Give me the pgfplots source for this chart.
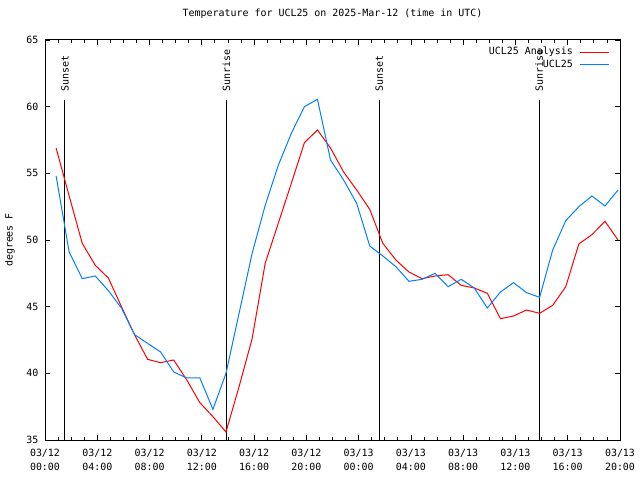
\documentclass[border=0pt]{standalone}
\usepackage{pgfplots}
\pgfplotsset{compat=1.18}
\usepackage{fontspec}
\setmainfont{DejaVu Sans Mono}
\definecolor{obsblue}{RGB}{0,128,255}
\begin{document}
\begin{tikzpicture}[font=\fontsize{10}{12}\selectfont]
\useasboundingbox (0,0) rectangle (640bp,480bp);
\begin{axis}[
  at={(45bp,40bp)}, anchor=south west,
  width=575bp, height=400bp, scale only axis,
  xmin=0, xmax=44, ymin=35, ymax=65,
  xtick={0,4,...,44}, minor x tick num=3,
  xticklabels={{03/12\\00:00},{03/12\\04:00},{03/12\\08:00},{03/12\\12:00},{03/12\\16:00},{03/12\\20:00},{03/13\\00:00},{03/13\\04:00},{03/13\\08:00},{03/13\\12:00},{03/13\\16:00},{03/13\\20:00}},
  ytick={35,40,...,65},
  xticklabel style={align=center, font=\fontsize{10}{13.5}\selectfont, yshift=-6bp},
  yticklabel style={xshift=-3bp},
  /pgf/number format/assume math mode=true,
  tick align=inside,
  major tick length=5bp, minor tick length=3bp,
  every tick/.style={black, line width=0.8bp},
  axis line style={line width=1bp},
  title={Temperature for UCL25 on 2025-Mar-12 (time in UTC)},
  title style={at={(0.5,1)}, anchor=center, yshift=20bp},
  ylabel={degrees F},
  ylabel style={at={(axis description cs:-0.061,0.5)}, anchor=center},
  legend plot pos=right,
  legend cell align=right,
  legend image code/.code={\draw[#1] (0bp,0bp) -- (29bp,0bp);},
  legend style={at={(1,1)}, anchor=north east, xshift=-10bp, yshift=-7bp,
    draw=none, fill=none, inner sep=0pt, row sep=2.7bp, column sep=7bp,
    nodes={inner sep=0pt, text height=7.5bp, text depth=2.5bp}},
]
% sunset / sunrise lines
\addplot[black, line width=1bp, forget plot] coordinates {(1.53,35) (1.53,60.5)};
\addplot[black, line width=1bp, forget plot] coordinates {(13.88,35) (13.88,60.5)};
\addplot[black, line width=1bp, forget plot] coordinates {(25.57,35) (25.57,60.5)};
\addplot[black, line width=1bp, forget plot] coordinates {(37.82,35) (37.82,60.5)};
\node[rotate=90, anchor=west, inner sep=0pt] at (axis cs:1.53,61.1) {Sunset};
\node[rotate=90, anchor=west, inner sep=0pt] at (axis cs:13.88,61.1) {Sunrise};
\node[rotate=90, anchor=west, inner sep=0pt] at (axis cs:25.57,61.1) {Sunset};
\node[rotate=90, anchor=west, inner sep=0pt] at (axis cs:37.82,61.1) {Sunrise};
% UCL25 Analysis
\addplot[red, line width=1bp] coordinates {
(0.85,56.9) (1.85,53.3) (2.85,49.75) (3.85,48.1) (4.85,47.15) (5.85,45.0)
(6.85,42.9) (7.85,41.05) (8.85,40.8) (9.85,41.0) (10.85,39.5) (11.85,37.8)
(12.85,36.75) (13.85,35.6) (14.85,39.0) (15.85,42.6) (16.85,48.25) (17.85,51.25)
(18.85,54.25) (19.85,57.3) (20.85,58.25) (21.85,56.9) (22.85,55.1) (23.85,53.75)
(24.85,52.3) (25.85,49.75) (26.85,48.5) (27.85,47.6) (28.85,47.1) (29.85,47.3)
(30.85,47.4) (31.85,46.6) (32.85,46.4) (33.85,46.0) (34.85,44.1) (35.85,44.3)
(36.85,44.75) (37.85,44.5) (38.85,45.1) (39.85,46.5) (40.85,49.7) (41.85,50.4)
(42.85,51.4) (43.85,50.0)
};
\addlegendentry{UCL25 Analysis}
% UCL25 observed
\addplot[obsblue, line width=1bp] coordinates {
(0.85,54.8) (1.85,49.1) (2.85,47.1) (3.85,47.3) (4.85,46.2) (5.85,44.9)
(6.85,42.9) (7.85,42.25) (8.85,41.6) (9.85,40.1) (10.85,39.65) (11.85,39.65)
(12.85,37.3) (13.85,40.0) (14.85,44.5) (15.85,49.0) (16.85,52.6) (17.85,55.6)
(18.85,58.0) (19.85,60.0) (20.85,60.55) (21.85,56.0) (22.85,54.5) (23.85,52.75)
(24.85,49.55) (25.85,48.8) (26.85,48.0) (27.85,46.9) (28.85,47.05) (29.85,47.5)
(30.85,46.5) (31.85,47.05) (32.85,46.4) (33.85,44.9) (34.85,46.1) (35.85,46.8)
(36.85,46.05) (37.85,45.7) (38.85,49.25) (39.85,51.45) (40.85,52.5) (41.85,53.3)
(42.85,52.55) (43.85,53.75)
};
\addlegendentry{UCL25}
\end{axis}
\end{tikzpicture}
\end{document}
